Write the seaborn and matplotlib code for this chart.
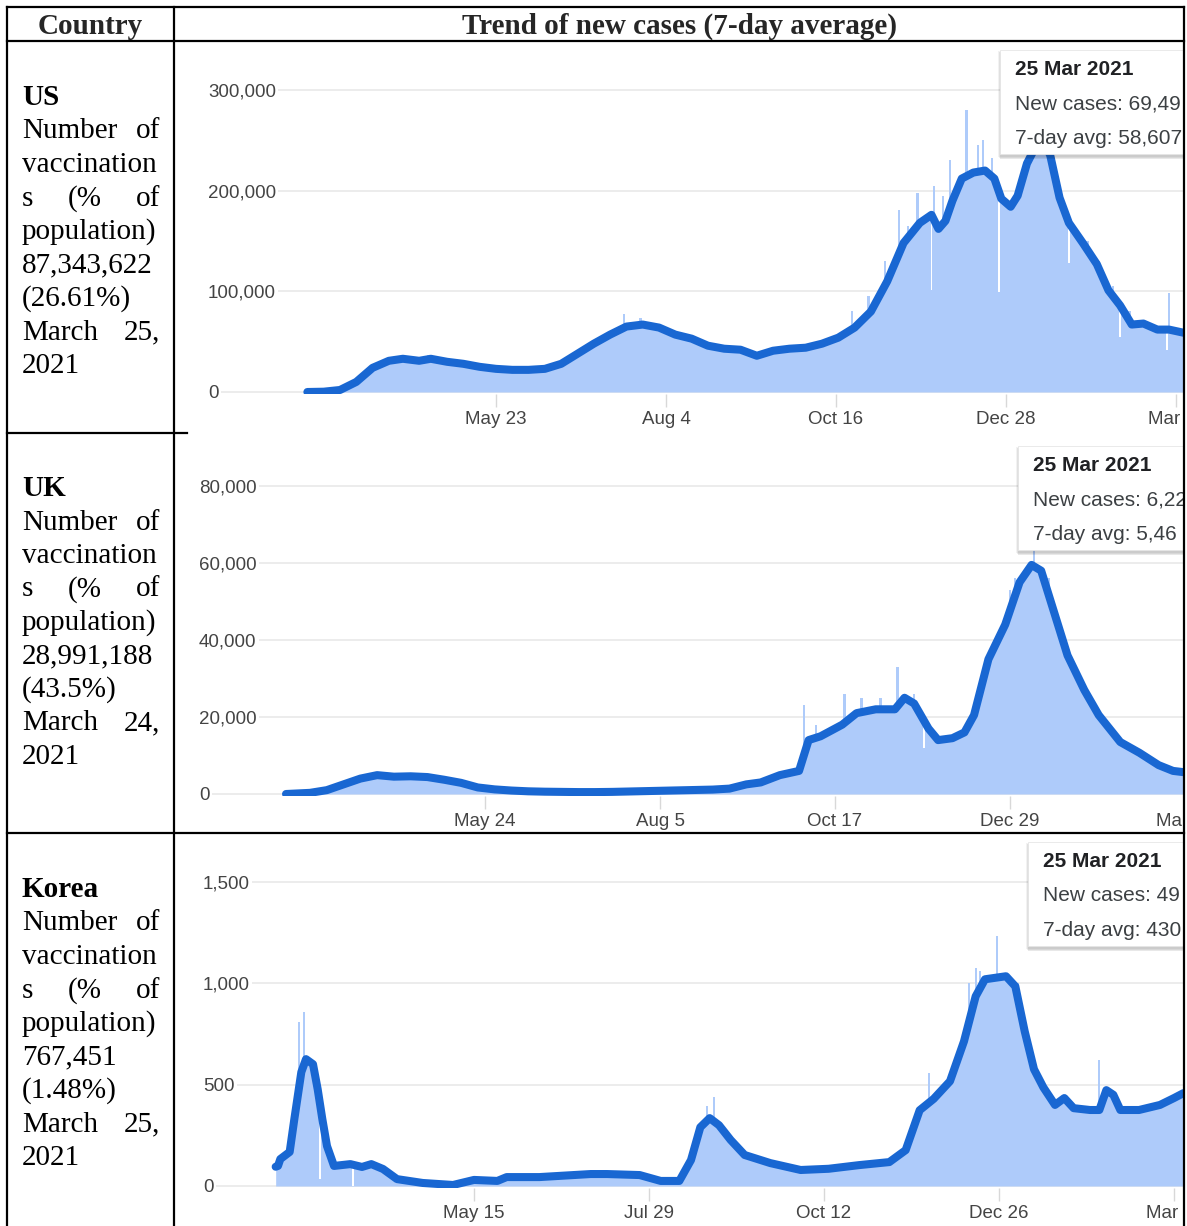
import numpy as np
import pandas as pd
import seaborn as sns
import matplotlib.pyplot as plt
import matplotlib.dates as mdates
from matplotlib.patches import Rectangle

# ---------------- data ----------------
# 7-day average of new cases (date, value)
us_avg = [('2020-03-03', 0), ('2020-03-10', 300), ('2020-03-17', 2000), ('2020-03-24', 10000),
          ('2020-03-31', 24000), ('2020-04-07', 31000), ('2020-04-13', 33000), ('2020-04-20', 31000),
          ('2020-04-25', 33000), ('2020-05-02', 30000), ('2020-05-09', 28000), ('2020-05-16', 25000),
          ('2020-05-23', 23000), ('2020-05-30', 22000), ('2020-06-06', 22000), ('2020-06-13', 23000),
          ('2020-06-20', 28000), ('2020-06-27', 38000), ('2020-07-04', 48000), ('2020-07-11', 57000),
          ('2020-07-18', 65000), ('2020-07-25', 67000), ('2020-08-01', 64000), ('2020-08-08', 57000),
          ('2020-08-15', 53000), ('2020-08-22', 46000), ('2020-08-29', 43000), ('2020-09-05', 42000),
          ('2020-09-12', 36000), ('2020-09-19', 41000), ('2020-09-26', 43000), ('2020-10-03', 44000),
          ('2020-10-10', 48000), ('2020-10-17', 54000), ('2020-10-24', 64000), ('2020-10-31', 80000),
          ('2020-11-07', 110000), ('2020-11-14', 148000), ('2020-11-21', 168000), ('2020-11-26', 176000),
          ('2020-11-29', 162000), ('2020-12-02', 170000), ('2020-12-05', 190000), ('2020-12-09', 212000),
          ('2020-12-14', 218000), ('2020-12-19', 220000), ('2020-12-23', 212000), ('2020-12-26', 192000),
          ('2020-12-30', 184000), ('2021-01-02', 195000), ('2021-01-06', 227000), ('2021-01-10', 245000),
          ('2021-01-13', 250000), ('2021-01-16', 235000), ('2021-01-20', 193000), ('2021-01-24', 168000),
          ('2021-01-30', 148000), ('2021-02-05', 127000), ('2021-02-10', 101000), ('2021-02-15', 86000),
          ('2021-02-20', 67000), ('2021-02-25', 68000), ('2021-03-03', 62000), ('2021-03-08', 62000),
          ('2021-03-14', 59000), ('2021-03-20', 56000), ('2021-03-25', 58607)]
# single days that stick out above / fall below the shaded area
us_spikes = [('2020-04-24', 37000), ('2020-07-17', 77000), ('2020-07-24', 74000), ('2020-10-23', 80000),
             ('2020-10-30', 95000), ('2020-11-06', 130000), ('2020-11-12', 181000), ('2020-11-16', 165000),
             ('2020-11-20', 198000), ('2020-11-27', 205000), ('2020-12-01', 195000), ('2020-12-04', 230000),
             ('2020-12-11', 280000), ('2020-12-16', 245000), ('2020-12-18', 250000), ('2020-12-22', 232000),
             ('2021-01-08', 300000), ('2021-01-22', 185000), ('2021-02-01', 150000), ('2021-02-06', 130000),
             ('2021-02-12', 105000), ('2021-02-19', 80000), ('2021-03-08', 98000)]
us_dips = [('2020-11-26', 101000, 176000), ('2020-12-25', 99000, 195000), ('2021-01-24', 128000, 168000),
           ('2021-02-15', 55000, 86000), ('2021-03-07', 42000, 62000)]

uk_avg = [('2020-03-02', 0), ('2020-03-12', 300), ('2020-03-19', 1000), ('2020-03-26', 2500),
          ('2020-04-02', 4000), ('2020-04-09', 4900), ('2020-04-16', 4500), ('2020-04-23', 4600),
          ('2020-04-30', 4400), ('2020-05-07', 3700), ('2020-05-14', 2900), ('2020-05-21', 1700),
          ('2020-05-28', 1200), ('2020-06-04', 900), ('2020-06-11', 700), ('2020-06-18', 600),
          ('2020-06-25', 550), ('2020-07-02', 500), ('2020-07-09', 500), ('2020-07-16', 550),
          ('2020-07-23', 650), ('2020-07-30', 750), ('2020-08-06', 850), ('2020-08-13', 950),
          ('2020-08-20', 1050), ('2020-08-27', 1150), ('2020-09-03', 1400), ('2020-09-10', 2500),
          ('2020-09-16', 3000), ('2020-09-24', 4900), ('2020-10-02', 6000), ('2020-10-06', 14000),
          ('2020-10-11', 15000), ('2020-10-20', 18000), ('2020-10-26', 21000), ('2020-11-03', 22000),
          ('2020-11-11', 22000), ('2020-11-15', 25000), ('2020-11-19', 23500), ('2020-11-25', 17000),
          ('2020-11-29', 14000), ('2020-12-05', 14500), ('2020-12-10', 16000), ('2020-12-14', 20500),
          ('2020-12-20', 35000), ('2020-12-27', 44000), ('2021-01-02', 55000), ('2021-01-07', 59500),
          ('2021-01-11', 58000), ('2021-01-16', 48000), ('2021-01-22', 36000), ('2021-01-29', 27000),
          ('2021-02-04', 20500), ('2021-02-13', 13500), ('2021-02-21', 10700), ('2021-03-01', 7500),
          ('2021-03-07', 6000), ('2021-03-11', 5700), ('2021-03-18', 5500), ('2021-03-25', 5460)]
uk_spikes = [('2020-10-04', 23000), ('2020-10-09', 18000), ('2020-10-21', 26000), ('2020-10-28', 25000),
             ('2020-11-05', 25000), ('2020-11-12', 33000), ('2020-11-19', 26000), ('2020-12-22', 38000),
             ('2020-12-29', 53000), ('2020-12-31', 56000), ('2021-01-08', 68000), ('2021-01-14', 56000),
             ('2021-01-20', 42000)]
uk_dips = [('2020-11-23', 12000, 18000)]

kr_avg = [('2020-02-20', 95), ('2020-02-21', 99), ('2020-02-22', 133), ('2020-02-26', 168),
          ('2020-02-28', 330), ('2020-03-02', 562), ('2020-03-04', 626), ('2020-03-07', 601),
          ('2020-03-09', 478), ('2020-03-11', 330), ('2020-03-13', 197), ('2020-03-16', 99),
          ('2020-03-23', 108), ('2020-03-28', 94), ('2020-04-01', 108), ('2020-04-06', 84),
          ('2020-04-12', 34), ('2020-04-23', 15), ('2020-05-06', 5), ('2020-05-15', 30),
          ('2020-05-25', 25), ('2020-05-29', 44), ('2020-06-12', 44), ('2020-07-04', 59),
          ('2020-07-11', 59), ('2020-07-25', 54), ('2020-08-03', 25), ('2020-08-11', 25),
          ('2020-08-16', 128), ('2020-08-20', 290), ('2020-08-24', 335), ('2020-08-28', 300),
          ('2020-09-02', 227), ('2020-09-08', 153), ('2020-09-19', 113), ('2020-10-02', 79),
          ('2020-10-14', 85), ('2020-10-27', 103), ('2020-11-09', 118), ('2020-11-16', 177),
          ('2020-11-22', 374), ('2020-11-28', 430), ('2020-12-05', 517), ('2020-12-11', 714),
          ('2020-12-16', 936), ('2020-12-20', 1020), ('2020-12-29', 1035), ('2021-01-02', 985),
          ('2021-01-06', 764), ('2021-01-10', 576), ('2021-01-14', 487), ('2021-01-19', 400),
          ('2021-01-23', 434), ('2021-01-27', 384), ('2021-02-03', 375), ('2021-02-07', 375),
          ('2021-02-10', 473), ('2021-02-13', 450), ('2021-02-16', 375), ('2021-02-24', 375),
          ('2021-03-05', 400), ('2021-03-11', 434), ('2021-03-15', 458), ('2021-03-25', 430)]
kr_spikes = [('2020-03-01', 808), ('2020-03-03', 857), ('2020-08-23', 397), ('2020-08-26', 441),
             ('2020-11-26', 560), ('2020-12-13', 1000), ('2020-12-16', 1078), ('2020-12-18', 1060),
             ('2020-12-25', 1232), ('2020-12-29', 1050), ('2021-01-03', 1000), ('2021-02-07', 620)]
kr_dips = [('2020-03-10', 35, 330), ('2020-03-24', 0, 105)]

us_yticks, us_ylabels = [0, 100000, 200000, 300000], ['0', '100,000', '200,000', '300,000']
uk_yticks, uk_ylabels = [0, 20000, 40000, 60000, 80000], ['0', '20,000', '40,000', '60,000', '80,000']
kr_yticks, kr_ylabels = [0, 500, 1000, 1500], ['0', '500', '1,000', '1,500']

us_xticks = ['2020-05-23', '2020-08-04', '2020-10-16', '2020-12-28', '2021-03-11']
us_xlabels = ['May 23', 'Aug 4', 'Oct 16', 'Dec 28', 'Mar 11']
uk_xticks = ['2020-05-24', '2020-08-05', '2020-10-17', '2020-12-29', '2021-03-12']
uk_xlabels = ['May 24', 'Aug 5', 'Oct 17', 'Dec 29', 'Mar 12']
kr_xticks = ['2020-05-15', '2020-07-29', '2020-10-12', '2020-12-26', '2021-03-11']
kr_xlabels = ['May 15', 'Jul 29', 'Oct 12', 'Dec 26', 'Mar 11']

us_tip = ['25 Mar 2021', 'New cases: 69,49', '7-day avg: 58,607']
uk_tip = ['25 Mar 2021', 'New cases: 6,22', '7-day avg: 5,46']
kr_tip = ['25 Mar 2021', 'New cases: 49', '7-day avg: 430']

us_text = ['US', 'Number of', 'vaccination', 's (% of', 'population)', '87,343,622', '(26.61%)', 'March 25,', '2021']
uk_text = ['UK', 'Number of', 'vaccination', 's (% of', 'population)', '28,991,188', '(43.5%)', 'March 24,', '2021']
kr_text = ['Korea', 'Number of', 'vaccination', 's (% of', 'population)', '767,451', '(1.48%)', 'March 25,', '2021']

# ---------------- styling ----------------
sns.set_theme(style='white')
plt.rcParams['font.family'] = ['Liberation Sans', 'DejaVu Sans']

FILL = '#aecbfa'
LINE = '#1967d2'
GRID = '#ebebeb'
LABEL = '#444444'
SERIF = ['Liberation Serif', 'DejaVu Serif']

W, H = 1187, 1226
fig = plt.figure(figsize=(W / 100, H / 100), dpi=100)


def px_axes(left, top, right, bottom):
    return fig.add_axes([left / W, 1 - bottom / H, (right - left) / W, (bottom - top) / H])


def draw_trend(left, top, right, zero_px, tick_px, tick_val, anchor, anchor_px, px_day,
               avg, spikes, dips, yticks, ylabels, xticks, xlabels):
    ax = px_axes(left, top, right, zero_px + 2)
    per_px = tick_val / (zero_px - tick_px)

    d = pd.to_datetime([a[0] for a in avg])
    v = [a[1] for a in avg]
    ax.fill_between(d, v, color=FILL, lw=0, zorder=1)

    sd = pd.to_datetime([s[0] for s in spikes])
    ax.bar(sd, [s[1] for s in spikes], width=1.0, color=FILL, lw=0, zorder=2)

    dd = pd.to_datetime([s[0] for s in dips])
    lo = np.array([s[1] for s in dips])
    hi = np.array([s[2] for s in dips])
    ax.bar(dd, hi - lo, bottom=lo, width=0.8, color='white', lw=0, zorder=3)

    sns.lineplot(x=d, y=v, ax=ax, color=LINE, linewidth=5.8, zorder=4,
                 solid_capstyle='round', solid_joinstyle='round')

    a0 = mdates.date2num(pd.Timestamp(anchor))
    ax.set_xlim(a0 - (anchor_px - left) / px_day, a0 + (right - anchor_px) / px_day)
    ax.set_ylim(-2 * per_px, (zero_px - top) * per_px)

    ax.set_yticks(yticks, ylabels)
    ax.set_xticks(pd.to_datetime(xticks), xlabels)
    ax.set_xlabel('')
    ax.set_ylabel('')
    ax.grid(False)
    ax.yaxis.grid(True, color=GRID, lw=1.3)
    ax.set_axisbelow(True)
    sns.despine(ax=ax, left=True, bottom=True)
    ax.tick_params(axis='y', left=False, length=0, pad=0, labelsize=13.5, labelcolor=LABEL)
    ax.tick_params(axis='x', bottom=True, direction='out', length=9, width=1, color='#d8d8d8',
                   pad=3, labelsize=13.5, labelcolor=LABEL)
    for lab in ax.get_yticklabels():
        lab.set_ha('left')
        lab.set_bbox(dict(facecolor='white', edgecolor='none', pad=1.5))
    return ax


draw_trend(208, 44, 1262, 392, 90, 300000, '2020-05-23', 496, 170 / 73,
           us_avg, us_spikes, us_dips, us_yticks, us_ylabels, us_xticks, us_xlabels)
draw_trend(199, 438, 1262, 794, 486, 80000, '2020-05-24', 485, 175 / 73,
           uk_avg, uk_spikes, uk_dips, uk_yticks, uk_ylabels, uk_xticks, uk_xlabels)
draw_trend(203, 838, 1262, 1186, 882, 1500, '2020-05-15', 474, 175 / 75,
           kr_avg, kr_spikes, kr_dips, kr_yticks, kr_ylabels, kr_xticks, kr_xlabels)

# ---------------- table overlay (pixel coordinates) ----------------
ov = fig.add_axes([0, 0, 1, 1])
ov.set_xlim(0, W)
ov.set_ylim(H, 0)
ov.axis('off')
renderer = fig.canvas.get_renderer()


def tooltip(x, y, lines):
    for k, al in enumerate([0.05, 0.07, 0.09]):
        ov.add_patch(Rectangle((x - 2 + k, y + 1 + k), 320, 106, facecolor='black', alpha=al, lw=0, zorder=3))
    ov.add_patch(Rectangle((x, y), 320, 104, facecolor='white', edgecolor='#e6e6e6', lw=0.6, zorder=3.5))
    ov.text(x + 15, y + 25, lines[0], fontsize=15, fontweight='bold', color='#202124', va='baseline', zorder=4)
    ov.text(x + 15, y + 59, lines[1], fontsize=15, color='#3c4043', va='baseline', zorder=4)
    ov.text(x + 15, y + 94, lines[2], fontsize=15, color='#3c4043', va='baseline', zorder=4)


tooltip(1000, 50, us_tip)
tooltip(1018, 446, uk_tip)
tooltip(1028, 842, kr_tip)


def cell_text(lines, y0, step=33.5, x0=22, x1=160):
    ov.text(x0, y0, lines[0], family=SERIF, fontsize=21, fontweight='bold', va='baseline', color='black')
    for i, line in enumerate(lines[1:]):
        y = y0 + (i + 1) * step
        words = line.split(' ')
        if len(words) == 1 or i == len(lines) - 2:
            ov.text(x0, y, line, family=SERIF, fontsize=21, va='baseline', color='black')
            continue
        texts = [ov.text(0, y, w, family=SERIF, fontsize=21, va='baseline', color='black') for w in words]
        widths = [t.get_window_extent(renderer).width for t in texts]
        gap = (x1 - x0 - sum(widths)) / (len(words) - 1)
        x = x0
        for t, wd in zip(texts, widths):
            t.set_x(x)
            x += wd + gap


cell_text(us_text, 105)
cell_text(uk_text, 496)
cell_text(kr_text, 897)

ov.text(90, 34, 'Country', family=SERIF, fontsize=21, fontweight='bold', ha='center', va='baseline')
ov.text(679, 34, 'Trend of new cases (7-day average)', family=SERIF, fontsize=21, fontweight='bold',
        ha='center', va='baseline')

# mask everything right of the table
ov.add_patch(Rectangle((1185, 0), 20, H, facecolor='white', lw=0, zorder=5))

border = dict(color='black', lw=1.6, zorder=6, solid_capstyle='projecting')
ov.plot([7, 1184], [7, 7], **border)
ov.plot([7, 1184], [41, 41], **border)
ov.plot([7, 7], [7, H + 5], **border)
ov.plot([174, 174], [7, H + 5], **border)
ov.plot([1184, 1184], [7, H + 5], **border)
ov.plot([7, 187], [433, 433], **border)
ov.plot([7, 1184], [833, 833], **border)

fig.savefig('out.png', dpi=100)
